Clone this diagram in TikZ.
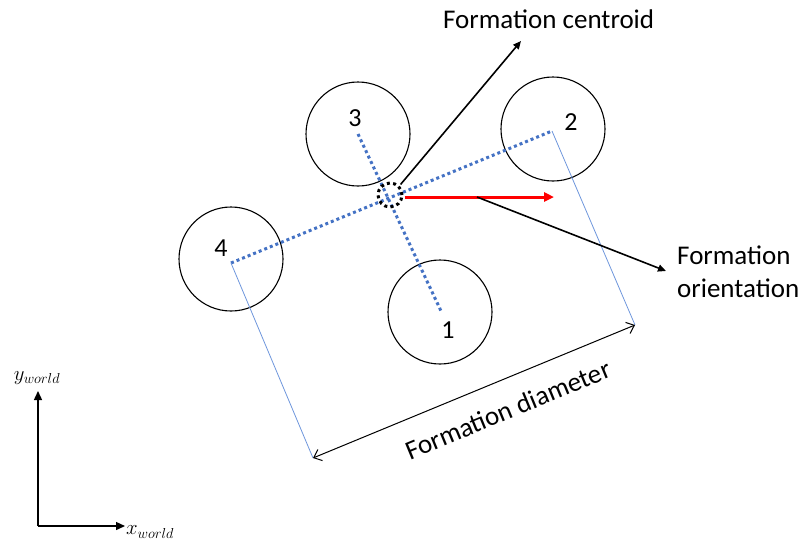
\documentclass[tikz,border=0pt]{standalone}
\usepackage{fontspec}
\setmainfont{Carlito}
\usetikzlibrary{arrows.meta}
\definecolor{officeblue}{RGB}{68,114,196}
\definecolor{lightblue}{RGB}{110,150,220}
\begin{document}
\begin{tikzpicture}[x=1pt,y=-1pt,
  robot/.style={draw,circle,line width=1.1pt,minimum size=104pt,inner sep=0pt},
  numlbl/.style={font=\fontsize{26}{28}\selectfont,inner sep=0pt},
  lbl/.style={font=\fontsize{27}{33}\selectfont,inner sep=0pt},
  dotline/.style={officeblue,line width=3pt,dash pattern=on 3pt off 3pt},
  thinline/.style={lightblue,line width=0.8pt},
  blackarrow/.style={line width=1.6pt,-{Triangle[length=8pt,width=7pt]}},
  axisarrow/.style={line width=1.4pt,-{Triangle[length=9pt,width=8pt]}}]
\useasboundingbox (0,0) rectangle (800,542);
% robots
\node[robot] (r4) at (231,259) {};
\node[robot] (r3) at (358,134) {};
\node[robot] (r2) at (553,129) {};
\node[robot] (r1) at (440,312) {};
\node[numlbl] (n4) at (221,248) {4};
\node[numlbl] (n3) at (355,118) {3};
\node[numlbl] (n2) at (571,122) {2};
\node[numlbl] (n1) at (448,330) {1};
\coordinate (p4) at (231,263);
\coordinate (p2) at (552,131);
\coordinate (p3) at (358,134);
\coordinate (p1) at (441,311);
% dotted axes of formation
\draw[dotline] (p4) -- (p2);
\draw[dotline] (p3) -- (p1);
% thin extension lines
\coordinate (d4) at (313,458);
\coordinate (d2) at (635,325);
\draw[thinline] (p4) -- (d4);
\draw[thinline] (p2) -- (d2);
\draw[line width=1pt,{Straight Barb[length=7pt,width=12pt]}-{Straight Barb[length=7pt,width=12pt]}] (d4) -- (d2);
\path (d4) -- (d2) node[pos=0.57,sloped,below=20pt,lbl] (diam) {Formation diameter};
% centroid
\node[draw,circle,line width=3pt,dash pattern=on 3pt off 3.3pt,minimum size=24pt,inner sep=0pt] (c) at (390,195) {};
% orientation red arrow
\coordinate (redend) at (554,197);
\draw[red,line width=3pt,-{Triangle[length=10pt,width=9pt]}] (c.east) ++(1,2) coordinate (redstart) -- (redend);
% labels
\node[lbl,anchor=west] (lc) at (443,19) {Formation centroid};
\node[lbl,anchor=west,align=left] (lo) at (677,272) {Formation\\orientation};
\coordinate (ctip) at (521,41);
\coordinate (otip) at (666,271);
\coordinate (ostart) at (477,197);
\draw[blackarrow] (c.north east) ++(1,-1) -- (ctip);
\draw[blackarrow] (ostart) -- (otip);
% world axes
\coordinate (o) at (38,526);
\coordinate (ye) at (38,391);
\coordinate (xe) at (125,526);
\draw[axisarrow] (o) -- (ye);
\draw[axisarrow] (o) -- (xe);
\node[font=\fontsize{22}{24}\selectfont,inner sep=0pt] (yl) at (37,378) {$y_{world}$};
\node[font=\fontsize{22}{24}\selectfont,inner sep=0pt,anchor=west] (xl) at (126,532) {$x_{world}$};
\end{tikzpicture}
\end{document}
